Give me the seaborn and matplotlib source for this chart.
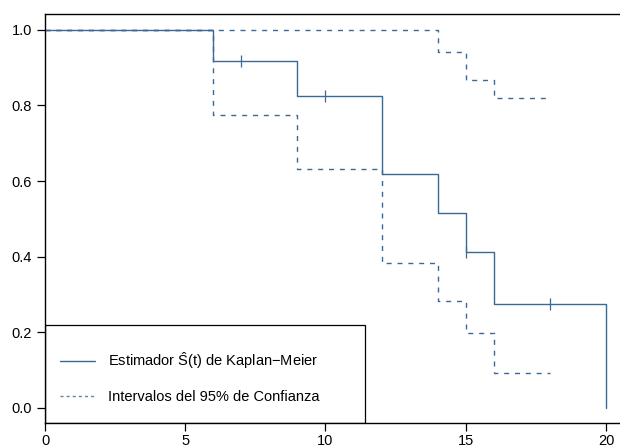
import matplotlib
matplotlib.use("Agg")
import matplotlib.pyplot as plt
import seaborn as sns
import pandas as pd
from matplotlib.patches import Rectangle
from matplotlib.lines import Line2D

# --- data ---
km_time = [0, 6, 9, 12, 14, 15, 16, 20]
km_surv = [1.0, 0.917, 0.825, 0.619, 0.516, 0.412, 0.275, 0.0]
upper_time = [0, 14, 15, 16, 18]
upper_ci = [1.0, 0.941, 0.868, 0.821, 0.821]
lower_time = [0, 6, 9, 12, 14, 15, 16, 18]
lower_ci = [1.0, 0.774, 0.631, 0.383, 0.282, 0.197, 0.092, 0.092]
cens_time = [7, 10, 15, 18]
cens_surv = [0.917, 0.825, 0.412, 0.275]
x_ticks = [0, 5, 10, 15, 20]
y_ticks = [0.0, 0.2, 0.4, 0.6, 0.8, 1.0]
label_km = r"Estimador $\hat{\mathrm{S}}$(t) de Kaplan−Meier"
label_ci = "Intervalos del 95% de Confianza"

sns.set_style("ticks")
plt.rcParams["font.family"] = ["Liberation Sans", "DejaVu Sans"]
plt.rcParams["mathtext.fontset"] = "custom"
plt.rcParams["mathtext.rm"] = "Liberation Sans"
plt.rcParams["mathtext.it"] = "Liberation Sans:italic"
plt.rcParams["font.size"] = 10.5

color = "#3A6897"

fig = plt.figure(figsize=(6.2, 4.48), dpi=100)
ax = fig.add_axes([45/620, 1 - 423/448, 1 - 45/620, (423 - 14)/448])

df_km = pd.DataFrame({"t": km_time, "s": km_surv})
df_up = pd.DataFrame({"t": upper_time, "s": upper_ci})
df_lo = pd.DataFrame({"t": lower_time, "s": lower_ci})

dash = (3.6, 4.2)
sns.lineplot(data=df_up, x="t", y="s", ax=ax, color=color, lw=1.0,
             drawstyle="steps-post", estimator=None, sort=False)
ax.lines[-1].set_dashes(dash)
sns.lineplot(data=df_lo, x="t", y="s", ax=ax, color=color, lw=1.0,
             drawstyle="steps-post", estimator=None, sort=False)
ax.lines[-1].set_dashes(dash)
sns.lineplot(data=df_km, x="t", y="s", ax=ax, color=color, lw=1.0,
             drawstyle="steps-post", estimator=None, sort=False)
ax.plot(cens_time, cens_surv, ls="none", marker="|", ms=8, mew=0.9, color=color)

ax.set_xlim(0, 20.5)
ax.set_ylim(-0.04, 1.042)
ax.set_xticks(x_ticks)
ax.set_xticklabels([str(v) for v in x_ticks])
ax.set_yticks(y_ticks)
ax.set_yticklabels([f"{v:.1f}" for v in y_ticks])
ax.set_xlabel("")
ax.set_ylabel("")
for side in ["left", "top", "bottom"]:
    ax.spines[side].set_visible(True)
    ax.spines[side].set_color("black")
    ax.spines[side].set_linewidth(1.0)
ax.spines["right"].set_visible(False)
ax.tick_params(axis="both", direction="out", length=5.5, width=0.9, colors="black",
               labelsize=10.5)
ax.tick_params(axis="x", pad=2.5)
ax.tick_params(axis="y", pad=4)

# legend frame
ax.add_patch(Rectangle((0, 0), 320/575, (423 - 325)/409, transform=ax.transAxes,
                       fill=False, edgecolor="black", lw=0.9, zorder=5))
handles = [Line2D([], [], color=color, lw=1.0),
           Line2D([], [], color=color, lw=1.0, dashes=(2.2, 2.2), alpha=0.8)]
leg = ax.legend(handles, [label_km, label_ci], loc="lower left",
                bbox_to_anchor=(15/575, 19/409), frameon=False,
                handlelength=2.4, handletextpad=0.9, labelspacing=1.3,
                fontsize=10.5, borderpad=0, borderaxespad=0)
for t in leg.get_texts():
    t.set_color("black")

fig.savefig("out.png", dpi=100)
